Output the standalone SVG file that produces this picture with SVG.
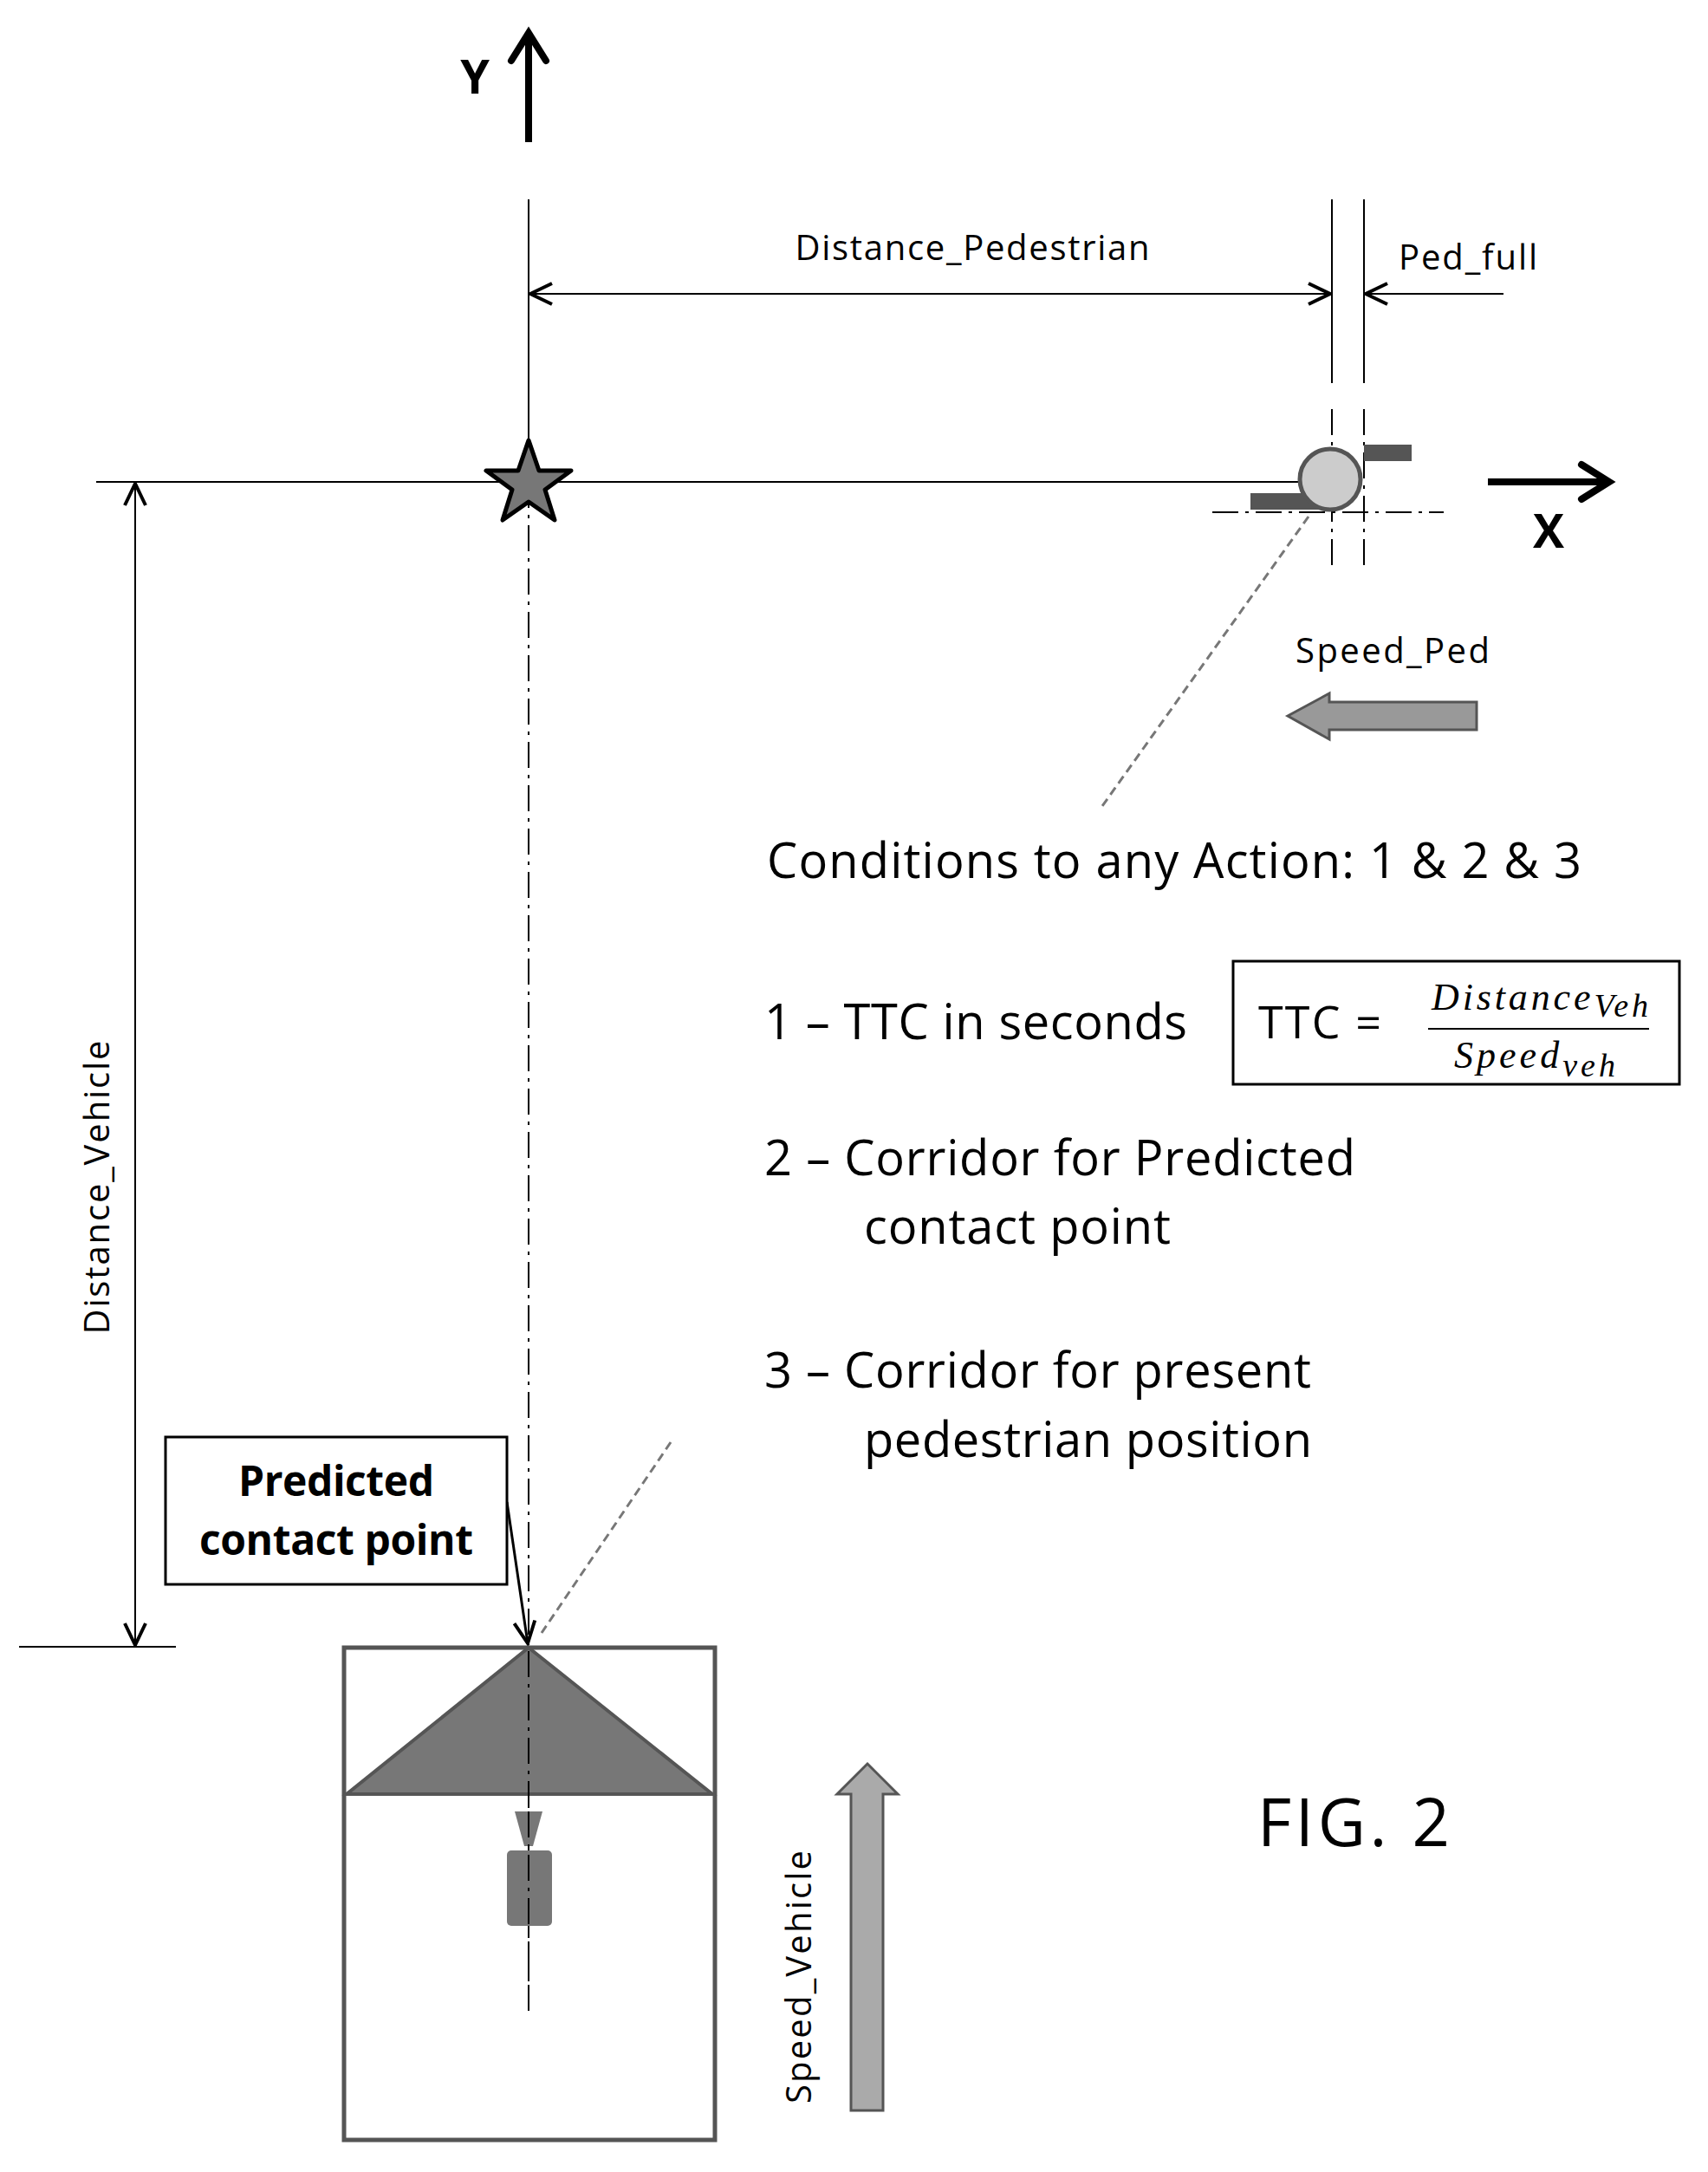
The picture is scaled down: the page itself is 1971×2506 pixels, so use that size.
<svg xmlns="http://www.w3.org/2000/svg" width="1971" height="2506" viewBox="0 0 1971 2506">
<style>
.t{font-family:"Open Sans","Liberation Sans",sans-serif;fill:#000}
.ln{stroke:#000;stroke-width:2;fill:none}
.dd{stroke:#000;stroke-width:2;fill:none;stroke-dasharray:30 8 4 8}
.gd{stroke:#777;stroke-width:3;fill:none;stroke-dasharray:10 6}
</style>
<defs>
<marker id="oa" markerWidth="30" markerHeight="30" refX="27" refY="15" orient="auto-start-reverse" markerUnits="userSpaceOnUse"><path d="M2,3 L27,15 L2,27" fill="none" stroke="#000" stroke-width="4"/></marker>
</defs>
<rect width="1971" height="2506" fill="#fff"/>
<g id="connectors">
<line class="ln" x1="610" y1="230" x2="610" y2="556"/>
<line class="dd" x1="610" y1="556" x2="610" y2="2320"/>
<line class="ln" x1="111" y1="556" x2="1500" y2="556"/>
<line x1="610" y1="164" x2="610" y2="45" stroke="#000" stroke-width="8"/>
<path d="M590,70 L610,38 L630,70" fill="none" stroke="#000" stroke-width="8" stroke-linecap="round"/>
<line x1="1717" y1="556" x2="1850" y2="556" stroke="#000" stroke-width="8"/>
<path d="M1825,536 L1857,556 L1825,576" fill="none" stroke="#000" stroke-width="8" stroke-linecap="round"/>
<line class="ln" x1="1537" y1="230" x2="1537" y2="442"/>
<line class="ln" x1="1574" y1="230" x2="1574" y2="442"/>
<line class="dd" x1="1537" y1="472" x2="1537" y2="652"/>
<line class="dd" x1="1574" y1="472" x2="1574" y2="652"/>
<line class="ln" x1="612" y1="339" x2="1535" y2="339" marker-end="url(#oa)" marker-start="url(#oa)"/>
<line class="ln" x1="1735" y1="339" x2="1576" y2="339" marker-end="url(#oa)"/>
<line class="dd" x1="1399" y1="591" x2="1666" y2="591"/>
<line class="ln" x1="156" y1="558" x2="156" y2="1898" marker-end="url(#oa)" marker-start="url(#oa)"/>
<line class="ln" x1="22" y1="1900" x2="203" y2="1900"/>
<line class="gd" x1="1510" y1="596" x2="1272" y2="930"/>
<line class="gd" x1="774" y1="1664" x2="625" y2="1884"/>
<line x1="585" y1="1733" x2="609" y2="1896" stroke="#000" stroke-width="3" marker-end="url(#oa)"/>
</g>
<g id="axis-labels">
<text class="t" x="548" y="108" font-size="54" font-weight="bold" text-anchor="middle">Y</text>
<text class="t" x="1787" y="632" font-size="54" font-weight="bold" text-anchor="middle">X</text>
</g>
<g id="star"><polygon points="610,508 622,543 659,543 629,565 640,600 610,579 580,600 591,565 561,543 598,543" fill="#777" stroke="#000" stroke-width="5" stroke-linejoin="round"/></g>
<g id="pedestrian">
<rect x="1574" y="513" width="55" height="19" fill="#555"/>
<rect x="1443" y="569" width="83" height="19" fill="#555"/>
<circle cx="1535" cy="553" r="35" fill="#ccc" stroke="#555" stroke-width="5"/>
</g>
<g id="dim-labels">
<text class="t" x="1122" y="300" font-size="40" text-anchor="middle" textLength="409">Distance_Pedestrian</text>
<text class="t" x="1694" y="311" font-size="40" text-anchor="middle" textLength="160">Ped_full</text>
<text class="t" x="1607" y="765" font-size="40" text-anchor="middle" textLength="224">Speed_Ped</text>
<text class="t" transform="translate(126,1370) rotate(-90)" font-size="40" text-anchor="middle" textLength="339">Distance_Vehicle</text>
<text class="t" transform="translate(936,2281) rotate(-90)" font-size="40" text-anchor="middle" textLength="292">Speed_Vehicle</text>
</g>
<g id="speed-ped-arrow"><polygon points="1486,826 1534,800 1534,810 1704,810 1704,842 1534,842 1534,853" fill="#999" stroke="#555" stroke-width="3"/></g>
<g id="conditions">
<text class="t" x="885" y="1013" font-size="56" textLength="940">Conditions to any Action: 1 &amp; 2 &amp; 3</text>
<text class="t" x="882" y="1199" font-size="56" textLength="488">1 – TTC in seconds</text>
<text class="t" x="882" y="1356" font-size="56" textLength="682">2 – Corridor for Predicted</text>
<text class="t" x="997" y="1435" font-size="56" textLength="354">contact point</text>
<text class="t" x="882" y="1601" font-size="56" textLength="631">3 – Corridor for present</text>
<text class="t" x="997" y="1681" font-size="56" textLength="517">pedestrian position</text>
</g>
<g id="ttc-box">
<rect x="1423" y="1109" width="515" height="142" fill="none" stroke="#000" stroke-width="3"/>
<text class="t" x="1452" y="1198" font-size="52" textLength="142">TTC =</text>
<line class="ln" x1="1648" y1="1187" x2="1903" y2="1187" stroke-width="3"/>
<text x="1652" y="1165" font-family="Liberation Serif,serif" font-style="italic" font-size="44" textLength="250">Distance<tspan font-size="38" dy="8">Veh</tspan></text>
<text x="1678" y="1232" font-family="Liberation Serif,serif" font-style="italic" font-size="44" textLength="186">Speed<tspan font-size="38" dy="10">veh</tspan></text>
</g>
<g id="predicted-box">
<rect x="191" y="1658" width="394" height="170" fill="#fff" stroke="#000" stroke-width="3"/>
<text class="t" x="388" y="1726" font-size="48" font-weight="bold" text-anchor="middle" textLength="226">Predicted</text>
<text class="t" x="388" y="1794" font-size="48" font-weight="bold" text-anchor="middle" textLength="316">contact point</text>
</g>
<g id="vehicle">
<rect x="397" y="1901" width="428" height="568" fill="none" stroke="#555" stroke-width="5"/>
<polygon points="610,1901 400,2070 822,2070" fill="#777" stroke="#555" stroke-width="4"/>
<line class="dd" x1="610" y1="1905" x2="610" y2="2320"/>
<polygon points="594,2090 626,2090 615,2130 605,2130" fill="#777"/>
<rect x="585" y="2135" width="52" height="87" rx="5" fill="#777"/>
<line class="dd" x1="610" y1="2090" x2="610" y2="2320"/>
</g>
<g id="speed-vehicle-arrow"><polygon points="1001,2035 1036,2070 1019,2070 1019,2435 982,2435 982,2070 966,2070" fill="#aaa" stroke="#555" stroke-width="3"/></g>
<g id="fig"><text class="t" x="1562" y="2130" font-size="76" text-anchor="middle" textLength="222" font-family="Liberation Sans,sans-serif">FIG. 2</text></g>
</svg>
